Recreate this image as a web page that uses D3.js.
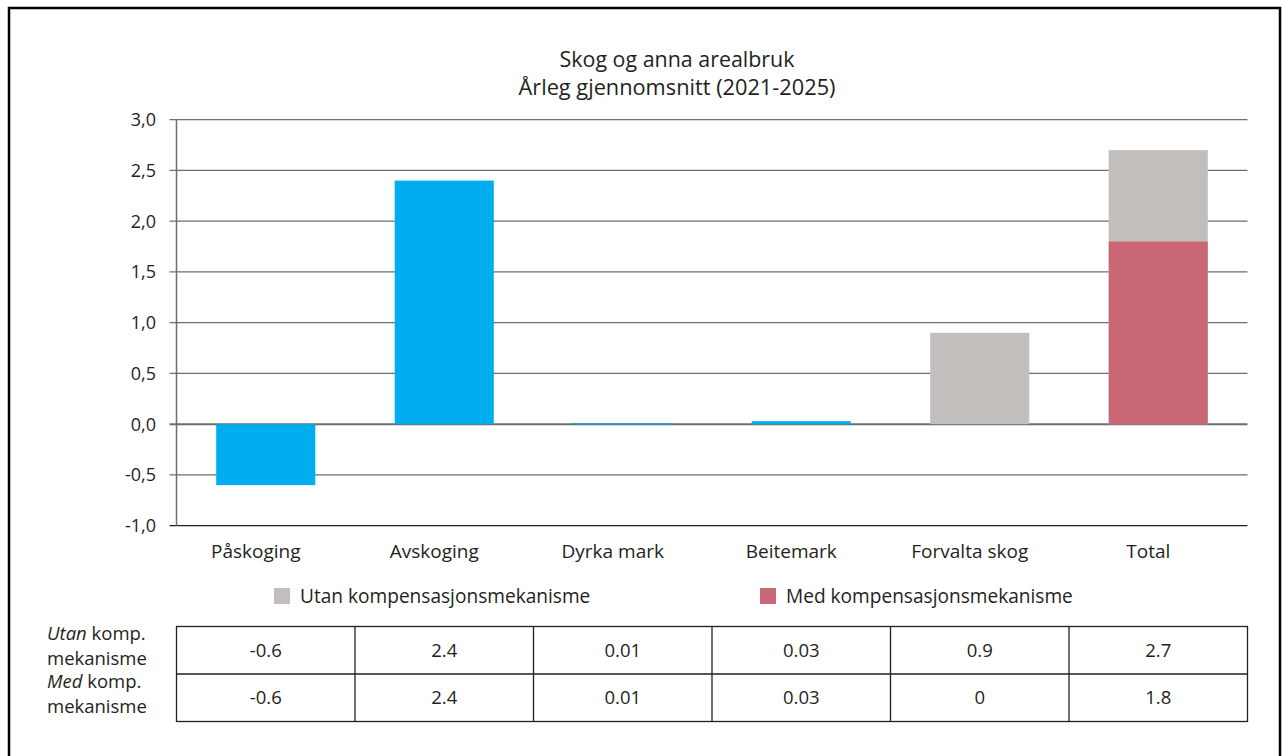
<!DOCTYPE html>
<html>
<head>
<meta charset="utf-8">
<script src="https://cdn.jsdelivr.net/npm/d3@7"></script>
<style>
  html, body { margin: 0; padding: 0; background: #fff; }
  svg { display: block; }
  text { font-family: "Open Sans", "Noto Sans", sans-serif; fill: #231f20; }
</style>
</head>
<body>
<svg id="chart" width="1282" height="756"></svg>
<script>
// Categories and the two series (annual average 2021-2025)
const categories = ["Påskoging", "Avskoging", "Dyrka mark", "Beitemark", "Forvalta skog", "Total"];
const utanValues = [-0.6, 2.4, 0.01, 0.03, 0.9, 2.7];
const medValues = [-0.6, 2.4, 0.01, 0.03, 0, 1.8];
const yTicks = [-1.0, -0.5, 0.0, 0.5, 1.0, 1.5, 2.0, 2.5, 3.0];
const titleLines = ["Skog og anna arealbruk", "Årleg gjennomsnitt (2021-2025)"];
const seriesNames = ["Utan kompensasjonsmekanisme", "Med kompensasjonsmekanisme"];
const rowLabels = [["Utan", " komp.", "mekanisme"], ["Med", " komp.", "mekanisme"]];

const colors = { same: "#00adef", utan: "#c2bebb", med: "#c96874" };

const svg = d3.select("#chart");

// Outer frame
svg.append("rect")
  .attr("x", 9).attr("y", 8)
  .attr("width", 1271).attr("height", 800)
  .attr("fill", "none").attr("stroke", "#000").attr("stroke-width", 2.5);

const plot = { left: 176.5, right: 1247.5, top: 119.7, bottom: 525.7 };

const x = d3.scaleBand()
  .domain(categories)
  .range([plot.left, plot.right])
  .paddingInner(0.445)
  .paddingOuter(0.2225);

const band = d3.scaleBand().domain(categories).range([plot.left, plot.right]);

const y = d3.scaleLinear().domain([-1, 3]).range([plot.bottom, plot.top]);

const fmt = v => d3.format(".1f")(v).replace(".", ",").replace("\u2212", "-");

// Title (two lines)
const titleLength = [235, 317];
svg.append("g").selectAll("text")
  .data(titleLines).join("text")
  .attr("x", 677)
  .attr("y", (d, i) => 66.5 + i * 28)
  .attr("text-anchor", "middle")
  .attr("font-size", 21)
  .attr("textLength", (d, i) => titleLength[i])
  .attr("lengthAdjust", "spacingAndGlyphs")
  .text(d => d);

// Horizontal gridlines with left tick marks
const grid = svg.append("g");
grid.selectAll("line")
  .data(yTicks).join("line")
  .attr("x1", plot.left - 7).attr("x2", plot.right)
  .attr("y1", d => y(d)).attr("y2", d => y(d))
  .attr("stroke", d => d === -1 ? "#231f20" : "#6d6e71")
  .attr("stroke-width", d => d === 0 ? 2 : 1.3);

// Y axis labels
svg.append("g").selectAll("text")
  .data(yTicks).join("text")
  .attr("x", 156).attr("y", d => y(d))
  .attr("dy", "0.35em")
  .attr("text-anchor", "end")
  .attr("font-size", 18)
  .text(fmt);

// Bars: where both series agree the bar is blue; otherwise grey (utan) behind red (med)
const rowsData = categories.map((c, i) => ({ c, u: utanValues[i], m: medValues[i] }));
const bars = svg.append("g");
bars.selectAll("rect.utan")
  .data(rowsData)
  .join("rect").attr("class", "utan")
  .attr("x", d => x(d.c)).attr("width", x.bandwidth())
  .attr("y", d => y(Math.max(0, d.u)))
  .attr("height", d => Math.abs(y(d.u) - y(0)))
  .attr("fill", d => d.u === d.m ? colors.same : colors.utan);

bars.selectAll("rect.med")
  .data(rowsData.filter(d => d.u !== d.m && d.m !== 0))
  .join("rect").attr("class", "med")
  .attr("x", d => x(d.c)).attr("width", x.bandwidth())
  .attr("y", d => y(Math.max(0, d.m)))
  .attr("height", d => Math.abs(y(d.m) - y(0)))
  .attr("fill", colors.med);

// Y axis line
svg.append("line")
  .attr("x1", plot.left).attr("x2", plot.left)
  .attr("y1", plot.top).attr("y2", plot.bottom)
  .attr("stroke", "#6d6e71").attr("stroke-width", 1.5);

// Category labels
svg.append("g").selectAll("text")
  .data(categories).join("text")
  .attr("x", d => band(d) + band.bandwidth() / 2 - 10)
  .attr("y", 557.5)
  .attr("text-anchor", "middle")
  .attr("font-size", 19)
  .text(d => d);

// Legend
const legend = svg.append("g");
const legendItems = [
  { name: seriesNames[0], color: colors.utan, x: 274 },
  { name: seriesNames[1], color: colors.med, x: 760 }
];
legendItems.forEach(l => {
  legend.append("rect").attr("x", l.x).attr("y", 588).attr("width", 16).attr("height", 16).attr("fill", l.color);
  legend.append("text").attr("x", l.x + 26).attr("y", 603).attr("font-size", 19.1).text(l.name);
});

// Data table
const table = svg.append("g");
const tTop = 626.5, tMid = 674, tBot = 721.5;
const rows = [utanValues, medValues];
table.append("rect")
  .attr("x", plot.left).attr("y", tTop)
  .attr("width", plot.right - plot.left).attr("height", tBot - tTop)
  .attr("fill", "none").attr("stroke", "#231f20").attr("stroke-width", 1.3);
table.append("line")
  .attr("x1", plot.left).attr("x2", plot.right)
  .attr("y1", tMid).attr("y2", tMid)
  .attr("stroke", "#231f20").attr("stroke-width", 1.3);
table.selectAll("line.col")
  .data(categories.slice(1)).join("line").attr("class", "col")
  .attr("x1", d => band(d)).attr("x2", d => band(d))
  .attr("y1", tTop).attr("y2", tBot)
  .attr("stroke", "#231f20").attr("stroke-width", 1.3);

rows.forEach((vals, r) => {
  const cy = r === 0 ? (tTop + tMid) / 2 : (tMid + tBot) / 2;
  table.append("g").selectAll("text")
    .data(vals).join("text")
    .attr("x", (d, i) => band(categories[i]) + band.bandwidth() / 2)
    .attr("y", cy).attr("dy", "0.35em")
    .attr("text-anchor", "middle")
    .attr("font-size", 18.5)
    .text(d => String(d));

  const lbl = table.append("text").attr("x", 47).attr("y", cy - 10).attr("font-size", 18.5);
  lbl.append("tspan").attr("font-style", "italic").text(rowLabels[r][0]);
  lbl.append("tspan").text(rowLabels[r][1]);
  table.append("text").attr("x", 47).attr("y", cy + 15).attr("font-size", 18.5).text(rowLabels[r][2]);
});
</script>
</body>
</html>
